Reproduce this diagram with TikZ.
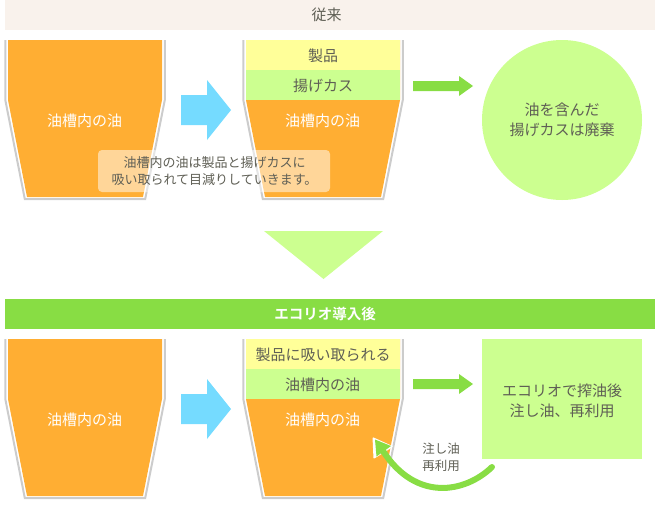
\documentclass[tikz,border=0pt]{standalone}
\usepackage{fontspec}
\setmainfont{Noto Sans CJK JP}[BoldFont={Noto Sans CJK JP Bold}]
\definecolor{tankorange}{HTML}{FFAE33}
\definecolor{lightgreen}{HTML}{CCFF90}
\definecolor{paleyellow}{HTML}{FFFF99}
\definecolor{midgreen}{HTML}{88DD44}
\definecolor{skyblue}{HTML}{75DBFF}
\definecolor{rimgray}{HTML}{CCCCCC}
\definecolor{txtgray}{HTML}{5F5F55}
\definecolor{cream}{HTML}{F9F2EC}
\tikzset{
  lbl/.style={font=\fontsize{15}{20}\selectfont,text=txtgray,align=center,inner sep=0pt},
  lblw/.style={lbl,text=white},
  small/.style={lbl,font=\fontsize{13}{17}\selectfont},
  tiny/.style={lbl,font=\fontsize{12.5}{17}\selectfont},
  rim/.style={draw=rimgray,line width=2pt,miter limit=10},
  pics/tank/.style={code={
    \fill[tankorange] (8,40)--(162,40)--(162,100)--(143,197)--(27,197)--(8,100)--cycle;
    \draw[rim] (5.3,40)--(5.3,100)--(24.8,199)--(145.2,199)--(164.8,100)--(164.8,40);
  }},
  pics/blockarrow/.style={code={
    \fill[skyblue] (181,95)--(207,95)--(207,80)--(231,110)--(207,140)--(207,125)--(181,125)--cycle;
  }},
  pics/greenarrow/.style={code={
    \fill[midgreen] (413,81)--(459,81)--(459,76)--(473,86)--(459,96)--(459,91)--(413,91)--cycle;
  }},
}
\begin{document}
\begin{tikzpicture}[x=1pt,y=-1pt]
\useasboundingbox (0,0) rectangle (655,504);
% top band
\fill[cream] (5,0) rectangle (655,30);
\node[lbl] (head1) at (326.5,15) {従来};
% upper row
\pic {tank};
\node[lblw] (oil1) at (84.5,120.5) {油槽内の油};
\pic {blockarrow};
\pic at (238,0) {tank};
\fill[paleyellow] (246,40) rectangle (400,70);
\fill[lightgreen] (246,70) rectangle (400,100);
\node[lbl] (prod1) at (323,56) {製品};
\node[lbl] (kasu1) at (323,86) {揚げカス};
\node[lblw] (oil2) at (322.5,120.5) {油槽内の油};
\pic {greenarrow};
\node[circle,fill=lightgreen,minimum size=160pt,inner sep=0pt,lbl] (disc) at (562,120) {油を含んだ\\揚げカスは廃棄};
\fill[white,opacity=.5,rounded corners=4pt] (98,150) rectangle (330,192);
\node[small] (note) at (214.5,171.5) {油槽内の油は製品と揚げカスに\\吸い取られて目減りしていきます。};
% big triangle
\fill[lightgreen] (264,231)--(383,231)--(323.5,279)--cycle;
% lower band
\fill[midgreen] (5,299) rectangle (655,329);
\node[lblw,font=\bfseries\fontsize{14.5}{20}\selectfont] (head2) at (325,314) {エコリオ導入後};
% lower row
\pic at (0,299) {tank};
\node[lblw] (oil3) at (84.5,419.5) {油槽内の油};
\pic at (0,299) {blockarrow};
\pic at (238,299) {tank};
\fill[paleyellow] (246,339) rectangle (400,369);
\fill[lightgreen] (246,369) rectangle (400,399);
\node[lbl] (prod2) at (323,355) {製品に吸い取られる};
\node[lbl] (oil4) at (322.5,385) {油槽内の油};
\node[lblw] (oil5) at (322.5,419.5) {油槽内の油};
\pic at (0,298) {greenarrow};
\fill[lightgreen] (482,339) rectangle (642,459);
\node[lbl] (box) at (562,401) {エコリオで搾油後\\注し油、再利用};
\node[tiny] (reuse) at (441,457) {注し油\\再利用};
% return arrow
\coordinate (rs) at (492,467);
\coordinate (rc1) at (465,493);
\coordinate (rc2) at (416,502);
\coordinate (re) at (383,451);
\fill[white,rounded corners=1pt] (372.5,437)--(393.5,446.5)--(373.5,459)--cycle;
\draw[midgreen,line width=6pt,line cap=round] (rs) .. controls (rc1) and (rc2) .. (re);
\fill[midgreen] (375,439.5)--(391,446)--(376.5,456.5)--cycle;
\end{tikzpicture}
\end{document}
